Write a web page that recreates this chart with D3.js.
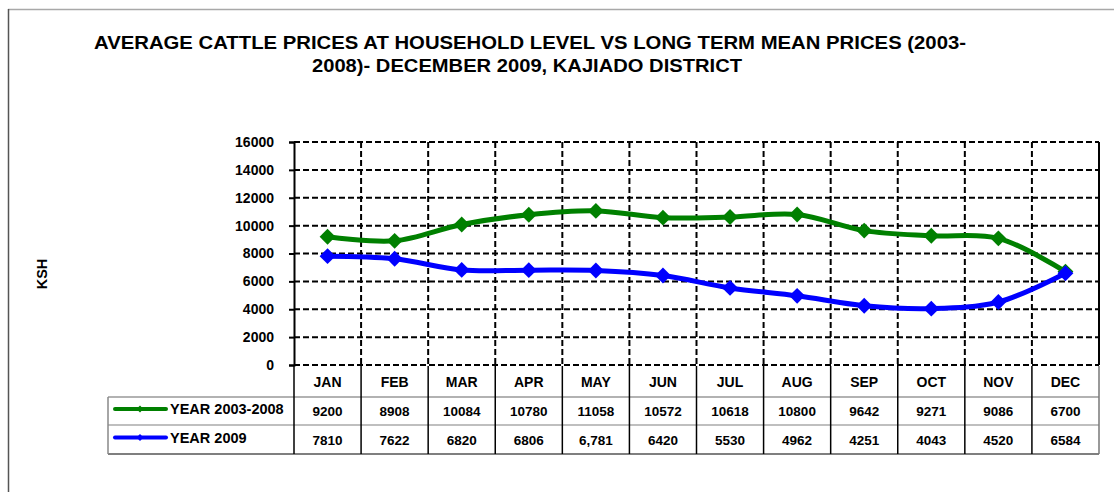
<!DOCTYPE html>
<html>
<head>
<meta charset="utf-8">
<script src="https://cdn.jsdelivr.net/npm/d3@7"></script>
<style>
body { margin: 0; background: #fff; }
svg text { font-family: Arial, "Liberation Sans", sans-serif; font-weight: bold; fill: #000; }
</style>
</head>
<body>
<div class="svg-container"></div>
<script>
var months = ["JAN", "FEB", "MAR", "APR", "MAY", "JUN", "JUL", "AUG", "SEP", "OCT", "NOV", "DEC"];
var longTerm = [9200, 8908, 10084, 10780, 11058, 10572, 10618, 10800, 9642, 9271, 9086, 6700];
var year2009 = [7810, 7622, 6820, 6806, 6781, 6420, 5530, 4962, 4251, 4043, 4520, 6584];
var longTermLabels = ["9200", "8908", "10084", "10780", "11058", "10572", "10618", "10800", "9642", "9271", "9086", "6700"];
var year2009Labels = ["7810", "7622", "6820", "6806", "6,781", "6420", "5530", "4962", "4251", "4043", "4520", "6584"];
var yTicks = [0, 2000, 4000, 6000, 8000, 10000, 12000, 14000, 16000];

var series = [
    { name: "YEAR 2003-2008", values: longTerm, labels: longTermLabels, color: "#008000" },
    { name: "YEAR 2009", values: year2009, labels: year2009Labels, color: "#0000ff" }
];

var width = 1114, height = 492;
var plotLeft = 294, plotRight = 1099, plotTop = 142, plotBottom = 365;

var svg = d3.select(".svg-container").append("svg")
    .attr("width", width)
    .attr("height", height);

// chart area border (top and left visible)
svg.append("line")
    .attr("x1", 8).attr("x2", width).attr("y1", 9.5).attr("y2", 9.5)
    .attr("stroke", "#a8a8a8").attr("stroke-width", 1.5);
svg.append("line")
    .attr("x1", 8.5).attr("x2", 8.5).attr("y1", 9).attr("y2", height)
    .attr("stroke", "#555").attr("stroke-width", 1.5);

// title
var title = svg.append("text")
    .attr("text-anchor", "middle")
    .style("font-size", "18.5px");
title.append("tspan").attr("x", 530).attr("y", 49)
    .attr("textLength", 872).attr("lengthAdjust", "spacingAndGlyphs")
    .text("AVERAGE CATTLE PRICES AT HOUSEHOLD LEVEL VS LONG TERM MEAN PRICES (2003-");
title.append("tspan").attr("x", 527).attr("y", 72)
    .attr("textLength", 430).attr("lengthAdjust", "spacingAndGlyphs")
    .text("2008)- DECEMBER 2009, KAJIADO DISTRICT");

// scales
var x = d3.scaleBand().domain(months).range([plotLeft, plotRight]);
var y = d3.scaleLinear().domain([0, 16000]).range([plotBottom, plotTop]);

// horizontal grid
svg.append("g")
    .selectAll("line")
    .data(yTicks)
    .enter().append("line")
    .attr("x1", plotLeft).attr("x2", plotRight)
    .attr("y1", d => y(d)).attr("y2", d => y(d))
    .attr("stroke", "#000")
    .attr("stroke-width", 2)
    .attr("stroke-dasharray", "6,3");

// vertical grid
svg.append("g")
    .selectAll("line")
    .data(months.slice(1))
    .enter().append("line")
    .attr("x1", d => x(d)).attr("x2", d => x(d))
    .attr("y1", plotTop).attr("y2", plotBottom)
    .attr("stroke", "#000")
    .attr("stroke-width", 2)
    .attr("stroke-dasharray", "6,3");

// right border
svg.append("line")
    .attr("x1", plotRight).attr("x2", plotRight)
    .attr("y1", plotTop).attr("y2", plotBottom)
    .attr("stroke", "#000").attr("stroke-width", 2);

// Y axis
var yAxis = svg.append("g")
    .attr("transform", "translate(" + plotLeft + ",0)")
    .call(d3.axisLeft(y).tickValues(yTicks).tickFormat(d3.format("d")).tickSize(5).tickPadding(15));
yAxis.select(".domain").attr("stroke", "#000").attr("stroke-width", 2);
yAxis.selectAll(".tick line").attr("stroke", "#000").attr("stroke-width", 2);
yAxis.selectAll("text")
    .style("font-size", "14px")
    .style("font-family", "Arial, 'Liberation Sans', sans-serif")
    .style("font-weight", "bold")
    .attr("fill", "#000");

// Y axis label
svg.append("text")
    .attr("transform", "translate(47,274) rotate(-90)")
    .attr("text-anchor", "middle")
    .style("font-size", "14.5px")
    .text("KSH");

// data table
var rowTops = [366, 397, 425, 454];
var tableLeft = 108;

svg.append("line")
    .attr("x1", tableLeft).attr("x2", plotRight)
    .attr("y1", rowTops[1]).attr("y2", rowTops[1])
    .attr("stroke", "#999").attr("stroke-width", 1.5);
svg.append("line")
    .attr("x1", tableLeft).attr("x2", plotRight)
    .attr("y1", rowTops[2]).attr("y2", rowTops[2])
    .attr("stroke", "#aaa").attr("stroke-width", 1.5);
svg.append("line")
    .attr("x1", tableLeft).attr("x2", plotRight)
    .attr("y1", rowTops[3]).attr("y2", rowTops[3])
    .attr("stroke", "#555").attr("stroke-width", 1.5);
svg.append("line")
    .attr("x1", tableLeft).attr("x2", tableLeft)
    .attr("y1", rowTops[1]).attr("y2", rowTops[3])
    .attr("stroke", "#888").attr("stroke-width", 1.5);

var colEdges = months.map(d => x(d)).concat([plotRight]);
svg.append("g")
    .selectAll("line")
    .data(colEdges)
    .enter().append("line")
    .attr("x1", d => d).attr("x2", d => d)
    .attr("y1", rowTops[0]).attr("y2", rowTops[3])
    .attr("stroke", (d, i) => i == colEdges.length - 1 ? "#777" : "#000")
    .attr("stroke-width", 1.5);

// month header
svg.append("g")
    .selectAll("text")
    .data(months)
    .enter().append("text")
    .attr("x", d => x(d) + x.bandwidth() / 2)
    .attr("y", 387)
    .attr("text-anchor", "middle")
    .style("font-size", "14px")
    .text(d => d);

// rows
series.forEach(function(s, r) {
    var cy = (rowTops[r + 1] + rowTops[r + 2]) / 2;
    svg.append("g")
        .selectAll("text")
        .data(s.labels)
        .enter().append("text")
        .attr("x", (d, i) => x(months[i]) + x.bandwidth() / 2)
        .attr("y", cy + 5)
        .attr("text-anchor", "middle")
        .style("font-size", "13.5px")
        .text(d => d);

    // legend key
    svg.append("line")
        .attr("x1", 115).attr("x2", 166)
        .attr("y1", cy - 2).attr("y2", cy - 2)
        .attr("stroke", s.color).attr("stroke-width", 4)
        .attr("stroke-linecap", "round");
    svg.append("path")
        .attr("d", d3.symbol().type(d3.symbolDiamond2).size(30)())
        .attr("transform", "translate(140," + (cy - 2) + ")")
        .attr("fill", s.color);
    svg.append("text")
        .attr("x", 170).attr("y", cy + 3)
        .style("font-size", "14.5px")
        .text(s.name);
});

// series lines
var line = d3.line()
    .x((d, i) => x(months[i]) + x.bandwidth() / 2)
    .y(d => y(d))
    .curve(d3.curveCatmullRom.alpha(0.5));

series.forEach(function(s) {
    svg.append("path")
        .datum(s.values)
        .attr("d", line)
        .attr("fill", "none")
        .attr("stroke", s.color)
        .attr("stroke-width", 5);
});

series.forEach(function(s) {
    svg.append("g")
        .selectAll("path")
        .data(s.values)
        .enter().append("path")
        .attr("d", d3.symbol().type(d3.symbolDiamond2).size(160)())
        .attr("transform", (d, i) => "translate(" + (x(months[i]) + x.bandwidth() / 2) + "," + y(d) + ")")
        .attr("fill", s.color);
});
</script>
</body>
</html>
